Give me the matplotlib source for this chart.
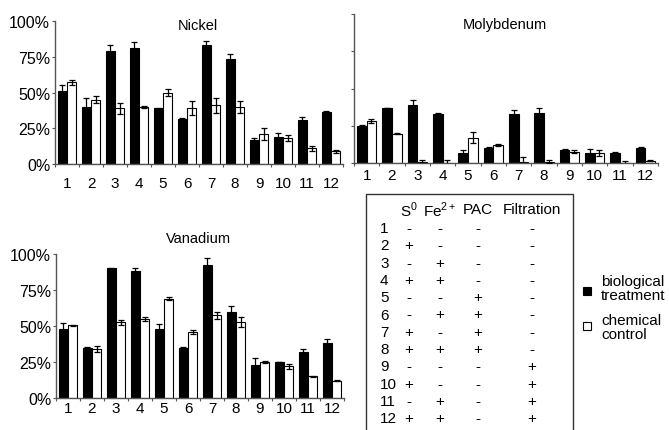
import numpy as np
import matplotlib
matplotlib.use("Agg")
import matplotlib.pyplot as plt
from matplotlib.patches import Rectangle

plt.rcParams['font.family'] = ['Liberation Sans', 'DejaVu Sans']
plt.rcParams['mathtext.fontset'] = 'custom'
plt.rcParams['mathtext.rm'] = 'Liberation Sans'

groups = np.arange(1, 13)

# percent removal, biological treatment (black) / chemical control (white)
nickel_bio = [51, 40, 79, 81, 39, 31.5, 83, 73.5, 17, 19, 31, 36.5]
nickel_bio_err = [4, 6, 4, 4, 0.5, 0.5, 3, 3.5, 1, 2.5, 2, 0.5]
nickel_chem = [57, 45, 39, 40, 50, 39, 41, 40, 21, 18, 11, 9]
nickel_chem_err = [1.5, 2.5, 4, 0.5, 2.3, 5, 5, 4, 4, 2, 1.6, 1]

moly_bio = [25, 37, 39, 33, 7, 10, 33, 33.5, 9, 6.5, 7, 10]
moly_bio_err = [0.5, 0, 3, 0.5, 2, 0.5, 2.7, 3.3, 0.3, 2.7, 0.7, 0.5]
moly_chem = [28, 19.5, 0.7, 0, 17, 12, 1, 0.7, 7.5, 7, 0, 1.5]
moly_chem_err = [1.3, 0.3, 1.5, 2, 3.6, 0.5, 3, 1, 1, 2, 1.5, 0.3]

vana_bio = [48, 35, 90, 88, 48, 35, 92.5, 60, 23, 25, 32, 38]
vana_bio_err = [4, 0.3, 0.5, 2, 3.5, 0.3, 5, 3.7, 5, 0.3, 2, 3.2]
vana_chem = [50.5, 34, 52.5, 55, 69, 46, 57.5, 53, 25, 22, 15, 12]
vana_chem_err = [0.5, 2.3, 1.6, 1.2, 1.2, 1.4, 2.3, 3.5, 0.5, 1.9, 0.5, 0.5]

table_cols = [r'S$^\mathregular{0}$', r'Fe$^\mathregular{2+}$', 'PAC', 'Filtration']
table_s0 = ['-', '+', '-', '+', '-', '-', '+', '+', '-', '+', '-', '+']
table_fe = ['-', '-', '+', '+', '-', '+', '-', '+', '-', '-', '+', '+']
table_pac = ['-', '-', '-', '-', '+', '+', '+', '+', '-', '-', '-', '-']
table_filt = ['-', '-', '-', '-', '-', '-', '-', '-', '+', '+', '+', '+']

W, H = 669, 431
fig = plt.figure(figsize=(W / 100, H / 100), dpi=100)


def px_axes(x0, ytop, x1, ybot):
    return fig.add_axes([x0 / W, 1 - ybot / H, (x1 - x0) / W, (ybot - ytop) / H])


def draw_panel(ax, bio, bio_err, chem, chem_err, ylabels, xpad):
    w = 0.38
    ax.bar(groups - w / 2, bio, w, color='black', edgecolor='black', linewidth=0.8, zorder=2)
    ax.bar(groups + w / 2, chem, w, color='white', edgecolor='black', linewidth=0.8, zorder=2)
    ax.errorbar(groups - w / 2, bio, yerr=bio_err, fmt='none', ecolor='black',
                elinewidth=0.9, capsize=2, capthick=0.9, zorder=3)
    ax.errorbar(groups + w / 2, chem, yerr=chem_err, fmt='none', ecolor='black',
                elinewidth=0.9, capsize=2, capthick=0.9, zorder=3)
    ax.set_xlim(0.5, 12.5)
    ax.set_ylim(0, 100)
    for s in ['top', 'right']:
        ax.spines[s].set_visible(False)
    for s in ['left', 'bottom']:
        ax.spines[s].set_color('#555555')
        ax.spines[s].set_linewidth(1.0)
    ax.set_yticks([0, 25, 50, 75, 100])
    if ylabels:
        ax.set_yticklabels(['0%', '25%', '50%', '75%', '100%'], fontsize=11.5)
    else:
        ax.set_yticklabels([])
    ax.tick_params(axis='y', direction='out', length=2.5, width=0.8, color='#555555', pad=1)
    ax.set_xticks(groups)
    ax.set_xticklabels([str(g) for g in groups], fontsize=11)
    ax.set_xticks(np.arange(0.5, 13, 1), minor=True)
    ax.tick_params(axis='x', which='major', length=0, pad=xpad)
    ax.tick_params(axis='x', which='minor', direction='out', length=2.5, width=0.8, color='#555555')


ax1 = px_axes(55, 22, 343, 165)
draw_panel(ax1, nickel_bio, nickel_bio_err, nickel_chem, nickel_chem_err, True, 9)
fig.text(198 / W, 1 - 26 / H, 'Nickel', ha='center', va='center', fontsize=10.5)

ax2 = px_axes(354, 15, 658, 164)
draw_panel(ax2, moly_bio, moly_bio_err, moly_chem, moly_chem_err, False, 3.5)
fig.text(505 / W, 1 - 25 / H, 'Molybdenum', ha='center', va='center', fontsize=10.5)

ax3 = px_axes(56, 255, 344, 399)
draw_panel(ax3, vana_bio, vana_bio_err, vana_chem, vana_chem_err, True, 2)
fig.text(198 / W, 1 - 239 / H, 'Vanadium', ha='center', va='center', fontsize=10.5)

# condition table
fig.patches.append(Rectangle((366 / W, -0.05), (573 - 366) / W, 1 - 195 / H + 0.05,
                             transform=fig.transFigure, fill=False,
                             edgecolor='#333333', linewidth=1.0))
col_x = [409, 440, 478, 532]
for cx, name in zip(col_x, table_cols):
    fig.text(cx / W, 1 - 210 / H, name, ha='center', va='center', fontsize=11)
for i, g in enumerate(groups):
    y = 229 + i * 17.3
    fig.text(380 / W, 1 - y / H, str(g), ha='left', va='center', fontsize=11)
    for cx, col in zip(col_x, [table_s0, table_fe, table_pac, table_filt]):
        fig.text(cx / W, 1 - y / H, col[i], ha='center', va='center', fontsize=11)

# legend
fig.patches.append(Rectangle((583 / W, 1 - 295.5 / H), 8 / W, 8 / H, transform=fig.transFigure,
                             facecolor='black', edgecolor='black', linewidth=0.8))
fig.patches.append(Rectangle((582.5 / W, 1 - 331 / H), 8 / W, 8 / H, transform=fig.transFigure,
                             facecolor='white', edgecolor='black', linewidth=0.8))
fig.text(601 / W, 1 - 289 / H, 'biological\ntreatment', ha='left', va='center',
         fontsize=11, linespacing=1.05)
fig.text(601 / W, 1 - 328 / H, 'chemical\ncontrol', ha='left', va='center',
         fontsize=11, linespacing=1.05)

fig.savefig('out.png', dpi=100)
